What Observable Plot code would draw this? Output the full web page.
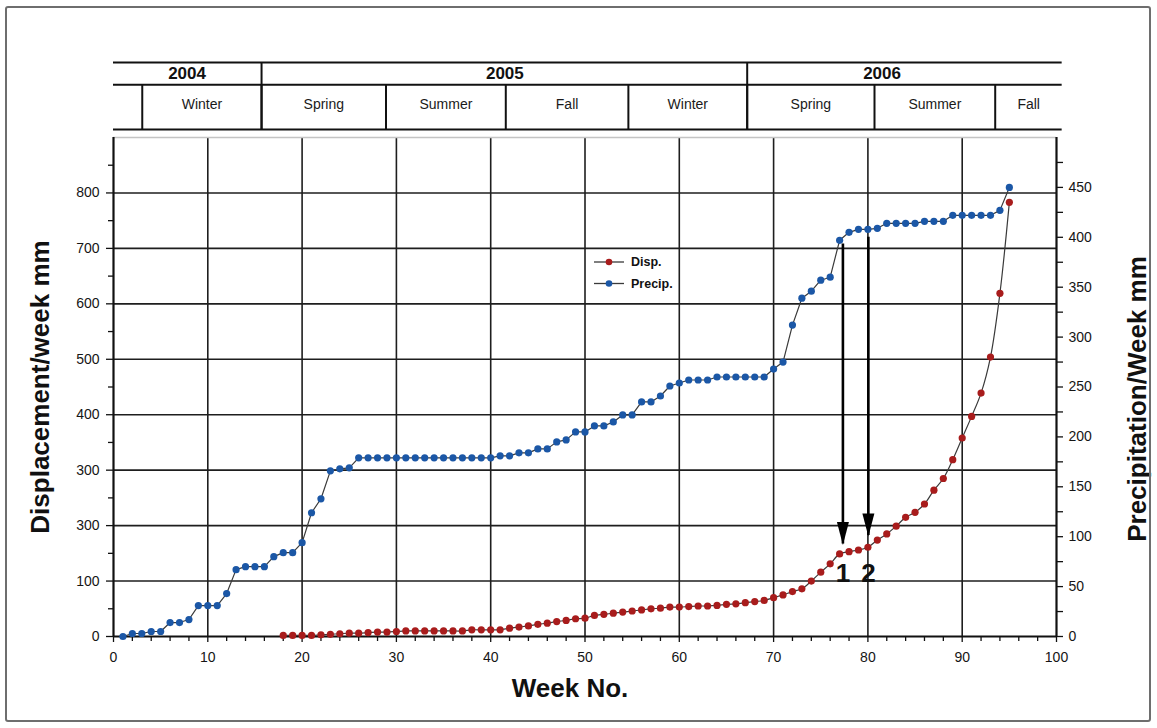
<!DOCTYPE html>
<html>
<head>
<meta charset="utf-8">
<script src="https://cdn.jsdelivr.net/npm/d3@7"></script>
<script src="https://cdn.jsdelivr.net/npm/@observablehq/plot@0.6"></script>
<style>
  html, body { margin: 0; padding: 0; background: #fff; }
  #wrap { position: relative; width: 1157px; height: 728px; overflow: hidden;
          font-family: "Liberation Sans", Arial, sans-serif; background: #fff; }
  #wrap svg { display: block; }
  #border { position: absolute; left: 5px; top: 6px; width: 1142px; height: 712px;
            border: 2px solid #6e6e6e; border-radius: 3px; pointer-events: none; }
  #legend { position: absolute; left: 588px; top: 250px; }
</style>
</head>
<body>
<div id="wrap">
  <div id="header"></div>
  <div id="main"></div>
  <div id="legend"></div>
  <div id="border"></div>
</div>
<script>
// ---------------- data ----------------
const precipWeeks = [1,2,3,4,5,6,7,8,9,10,11,12,13,14,15,16,17,18,19,20,21,22,23,24,25,26,27,28,29,30,
  31,32,33,34,35,36,37,38,39,40,41,42,43,44,45,46,47,48,49,50,51,52,53,54,55,56,57,58,59,60,
  61,62,63,64,65,66,67,68,69,70,71,72,73,74,75,76,77,78,79,80,81,82,83,84,85,86,87,88,89,90,
  91,92,93,94,95];
const precipValues = [0,3,3,5,5,14,14,17,31,31,31,43,67,70,70,70,80,84,84,94,
  124,138,166,168,169,179,179,179,179,179,179,179,179,179,179,179,179,179,179,179,
  181,181,184,184,188,188,195,197,205,205,211,211,215,222,222,235,235,241,251,254,
  257,257,257,260,260,260,260,260,260,268,275,312,339,346,357,360,397,405,408,408,
  409,414,414,414,414,416,416,416,422,422,422,422,422,427,450];

const dispWeeks = [18,19,20,21,22,23,24,25,26,27,28,29,30,31,32,33,34,35,36,37,38,39,40,
  41,42,43,44,45,46,47,48,49,50,51,52,53,54,55,56,57,58,59,60,
  61,62,63,64,65,66,67,68,69,70,71,72,73,74,75,76,77,78,79,80,
  81,82,83,84,85,86,87,88,89,90,91,92,93,94,95];
const dispValues = [2,2,2,2,3,4,5,6,6,7,8,8,9,10,10,10,10,10,10,10,12,12,12,
  12,15,17,19,22,24,27,29,32,33,38,40,42,44,46,48,50,51,53,53,
  54,55,55,56,58,59,61,63,65,70,75,81,86,100,116,131,149,153,156,161,
  174,185,199,215,224,239,264,285,319,358,397,439,504,619,783];

const seriesNames = ["Disp.", "Precip."];

// axes
const xTicks = [0,10,20,30,40,50,60,70,80,90,100];
const xMinorTicks = [2,4,6,8,12,14,16,18,22,24,26,28,32,34,36,38,42,44,46,48,52,54,56,58,62,64,66,68,72,74,76,78,82,84,86,88,92,94,96,98];
const leftTicks = [0,100,200,300,400,500,600,700,800];
const leftTickLabels = ["0","100","300","300","400","500","600","700","800"];
const leftMinorTicks = [50,150,250,350,450,550,650,750,850];
const rightTicks = [0,50,100,150,200,250,300,350,400,450];
const rightMinorTicks = [25,75,125,175,225,275,325,375,425,475];
const leftMax = 900, rightMax = 500;

// header (week boundaries)
const years = [
  {label: "2004", start: 0, end: 15.7, at: 7.8},
  {label: "2005", start: 15.7, end: 67.2, at: 41.5},
  {label: "2006", start: 67.2, end: 100.6, at: 81.5}
];
const seasons = [
  {label: "", start: 0, end: 3.05},
  {label: "Winter", start: 3.05, end: 15.7},
  {label: "Spring", start: 15.7, end: 28.9},
  {label: "Summer", start: 28.9, end: 41.6},
  {label: "Fall", start: 41.6, end: 54.6},
  {label: "Winter", start: 54.6, end: 67.2},
  {label: "Spring", start: 67.2, end: 80.7},
  {label: "Summer", start: 80.7, end: 93.5},
  {label: "Fall", start: 93.5, end: 100.6}
];

// annotations (week, top value, tip value, label value on left axis)
const arrows = [
  {label: "1", week: 77.35, top: 708, tip: 167, labelAt: 113},
  {label: "2", week: 80.05, top: 720, tip: 182, labelAt: 113}
];

const titles = {x: "Week No.", yLeft: "Displacement/week mm", yRight: "Precipitation/Week mm"};

// ---------------- build ----------------
const k = leftMax / rightMax;
const precip = precipWeeks.map((w, i) => ({week: w, value: precipValues[i]}));
const disp = dispWeeks.map((w, i) => ({week: w, value: dispValues[i]}));
const leftLabelMap = new Map(leftTicks.map((t, i) => [t, leftTickLabels[i]]));
const RED = "#a81c1c", BLUE = "#1b57a6", LINE = "#3a3a3a";
const FONT = '"Liberation Sans", Arial, sans-serif';

// header table plot
const hStart = d3.min(seasons, d => d.start), hEnd = d3.max(seasons, d => d.end);
const headerRows = [0, 2, 3].map(y => ({y, x1: hStart, x2: hEnd}));
const seasonBounds = seasons.slice(1).map(d => ({x: d.start, y1: 0, y2: 2}));
const yearBounds = years.slice(1).map(d => ({x: d.start, y1: 0, y2: 3}));

const header = Plot.plot({
  width: 1157, height: 130,
  marginLeft: 113, marginRight: 101, marginTop: 62, marginBottom: 1,
  x: {domain: [0, 100], axis: null},
  y: {domain: [0, 3], axis: null},
  style: {fontFamily: FONT, background: "transparent", overflow: "visible"},
  marks: [
    Plot.ruleY(headerRows, {y: "y", x1: "x1", x2: "x2", stroke: "#111", strokeWidth: 2}),
    Plot.ruleX(seasonBounds, {x: "x", y1: "y1", y2: "y2", stroke: "#111", strokeWidth: 2}),
    Plot.ruleX(yearBounds, {x: "x", y1: "y1", y2: "y2", stroke: "#111", strokeWidth: 2}),
    Plot.text(seasons.filter(d => d.label), {x: d => (d.start + d.end) / 2, y: () => 1.1, text: "label",
      fontSize: 14, fill: "#1a1a1a"}),
    Plot.text(years, {x: "at", y: () => 2.5, text: "label", fontSize: 17, fontWeight: "bold", fill: "#111"})
  ]
});
document.getElementById("header").appendChild(header);

// arrow head symbol (tip at the anchor point, pointing down)
const arrowHead = {
  draw(ctx) {
    ctx.moveTo(0, 1);
    ctx.lineTo(-6, -22);
    ctx.lineTo(6, -22);
    ctx.closePath();
  }
};

const main = Plot.plot({
  width: 1157, height: 598,
  marginLeft: 113, marginRight: 101, marginTop: 7, marginBottom: 92,
  x: {domain: [0, 100]},
  y: {domain: [0, leftMax]},
  style: {fontFamily: FONT, fontSize: "14px", color: "#111", background: "transparent", overflow: "visible"},
  marks: [
    Plot.ruleY(leftTicks.slice(1), {stroke: "#1e1e1e", strokeWidth: 1.6}),
    Plot.ruleX(xTicks.slice(1, -1), {stroke: "#1e1e1e", strokeWidth: 1.6}),
    Plot.ruleY([leftMax], {stroke: "#c4c4c4", strokeWidth: 1.5}),
    Plot.ruleX([0, 100], {stroke: "#111", strokeWidth: 2.2}),
    Plot.ruleY([0], {stroke: "#111", strokeWidth: 2.2}),
    // left axis
    Plot.axisY({anchor: "left", ticks: leftMinorTicks, tickSize: 5, tickFormat: () => "", label: null, strokeWidth: 1.3}),
    Plot.axisY({anchor: "left", ticks: leftTicks, tickSize: 7, tickPadding: 7, label: null, strokeWidth: 1.3,
      tickFormat: d => leftLabelMap.get(d), fontSize: 14, fill: "#151515"}),
    // right axis (precipitation units)
    Plot.axisY({anchor: "right", ticks: rightMinorTicks.map(v => v * k), tickSize: 6, tickFormat: () => "", label: null, strokeWidth: 1.3}),
    Plot.axisY({anchor: "right", ticks: rightTicks.map(v => v * k), tickSize: 6, tickPadding: 6, label: null, strokeWidth: 1.3,
      tickFormat: d => String(Math.round(d / k)), fontSize: 14, fill: "#151515"}),
    // x axis
    Plot.axisX({anchor: "bottom", ticks: xMinorTicks, tickSize: 5, tickFormat: () => "", label: null, strokeWidth: 1.3}),
    Plot.axisX({anchor: "bottom", ticks: xTicks, tickSize: 6, tickPadding: 10, label: null, strokeWidth: 1.3,
      tickFormat: d => String(d), fontSize: 14, fill: "#151515"}),
    // series
    Plot.line(precip, {x: "week", y: d => d.value * k, stroke: LINE, strokeWidth: 1.2}),
    Plot.line(disp, {x: "week", y: "value", stroke: LINE, strokeWidth: 1.2, curve: "catmull-rom"}),
    Plot.dot(precip, {x: "week", y: d => d.value * k, r: 3.6, fill: BLUE, stroke: "none"}),
    Plot.dot(disp, {x: "week", y: "value", r: 3.6, fill: RED, stroke: "none"}),
    // annotations
    Plot.ruleX(arrows, {x: "week", y1: "top", y2: "tip", stroke: "#000", strokeWidth: 2.6}),
    Plot.dot(arrows, {x: "week", y: "tip", symbol: arrowHead, r: 5, fill: "#000", stroke: "none"}),
    Plot.text(arrows, {x: "week", y: "labelAt", text: "label", fontSize: 26, fontWeight: "bold", fill: "#111"}),
    // axis titles
    Plot.text([titles.yLeft], {frameAnchor: "left", dx: -73, rotate: -90, text: d => d,
      fontSize: 26, fontWeight: "bold", fill: "#111", textAnchor: "middle"}),
    Plot.text([titles.yRight], {frameAnchor: "right", dx: 81, dy: 12, rotate: -90, text: d => d,
      fontSize: 26, fontWeight: "bold", fill: "#111", textAnchor: "middle"}),
    Plot.text([titles.x], {frameAnchor: "bottom", dx: -15, dy: 60, text: d => d,
      fontSize: 26, fontWeight: "bold", fill: "#111"})
  ]
});
document.getElementById("main").appendChild(main);

// legend
const legendItems = [{label: seriesNames[0], color: RED}, {label: seriesNames[1], color: BLUE}];
const lg = d3.select("#legend").append("svg").attr("width", 100).attr("height", 46)
  .style("font-family", FONT);
legendItems.forEach((d, i) => {
  const y = 12 + i * 21.5;
  lg.append("line").attr("x1", 6).attr("x2", 36).attr("y1", y).attr("y2", y)
    .attr("stroke", LINE).attr("stroke-width", 1.3);
  lg.append("circle").attr("cx", 21).attr("cy", y).attr("r", 3.3).attr("fill", d.color);
  lg.append("text").attr("x", 43).attr("y", y).attr("dy", "0.35em")
    .attr("font-size", 12.5).attr("font-weight", "bold").attr("fill", "#111").text(d.label);
});
</script>
</body>
</html>
